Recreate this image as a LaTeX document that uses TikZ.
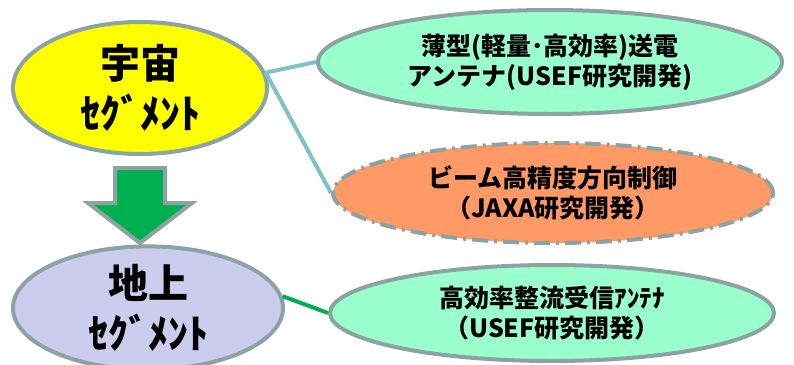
\documentclass[tikz,border=0pt]{standalone}
\usepackage{fontspec}
\setmainfont{Noto Sans CJK JP}
\usetikzlibrary{shapes.geometric}
\definecolor{bordergray}{HTML}{8BA3A3}
\definecolor{yel}{HTML}{FFFF00}
\definecolor{lav}{HTML}{CCCCEE}
\definecolor{mint}{HTML}{99FFCC}
\definecolor{orng}{HTML}{FF9966}
\definecolor{arrgreen}{HTML}{00B050}
\definecolor{teal}{HTML}{80C0C8}
\tikzset{
  ell/.style={ellipse, draw=bordergray, line width=4pt, inner sep=0pt, align=center, font=\bfseries},
  bigtxt/.style={font=\bfseries\fontsize{40}{50}\selectfont},
  smalltxt/.style={font=\bfseries\fontsize{25}{30}\selectfont},
  conn/.style={line width=4pt},
}
\begin{document}
\begin{tikzpicture}[x=1pt,y=-1pt]
\useasboundingbox (0,0) rectangle (794,364);
% left ellipses
\node[ell, fill=yel, minimum width=254pt, minimum height=132pt, bigtxt] (space) at (140,88) {宇宙\\ｾｸﾞﾒﾝﾄ};
\node[ell, fill=lav, minimum width=270pt, minimum height=110pt, bigtxt] (ground) at (148,308) {地上\\ｾｸﾞﾒﾝﾄ};
% right ellipses
\node[ell, fill=mint, minimum width=464pt, minimum height=104pt, smalltxt] (tx) at (550,62) {薄型(軽量･高効率)送電\\アンテナ(USEF研究開発)};
\node[ell, fill=orng, minimum width=440pt, minimum height=100pt, smalltxt,
      dash pattern=on 16pt off 6pt on 3pt off 6pt] (beam) at (553,193) {ビーム高精度方向制御\\（JAXA研究開発）};
\node[ell, fill=mint, minimum width=444pt, minimum height=96pt, smalltxt] (rx) at (552,313) {高効率整流受信ｱﾝﾃﾅ\\（USEF研究開発）};
% arrow
\draw[fill=arrgreen, draw=bordergray, line width=4pt, line join=miter]
  (115,168) -- (165,168) -- (165,203) -- (192,203) -- (140,243) -- (88,203) -- (115,203) -- cycle;
% connectors
\draw[conn, teal] (space.7) -- (tx.west);
\draw[conn, teal] (space.7) -- (beam.west);
\draw[conn, arrgreen] (ground.5) -- (rx.west);
\end{tikzpicture}
\end{document}
